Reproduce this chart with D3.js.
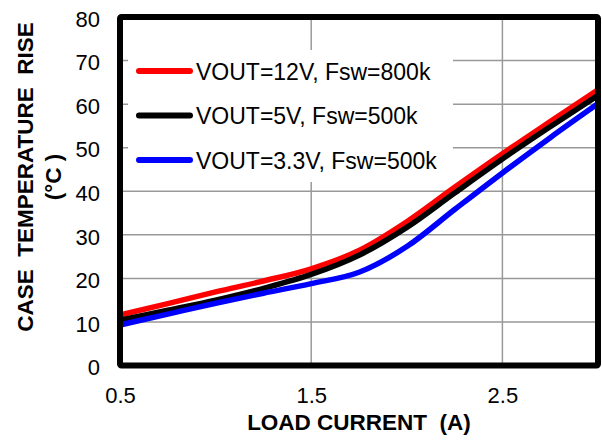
<!DOCTYPE html>
<html>
<head>
<meta charset="utf-8">
<script src="https://cdn.jsdelivr.net/npm/d3@7"></script>
<style>
  html, body { margin: 0; padding: 0; background: #fff; }
  svg { display: block; font-family: "Liberation Sans", Arial, sans-serif; }
</style>
</head>
<body>
<svg id="chart" width="602" height="444"></svg>
<script>
const loadCurrent = [0.5, 0.75, 1.0, 1.25, 1.5, 1.75, 2.0, 2.25, 2.5, 2.75, 3.0];
const rise12V  = [11.6, 14.2, 16.9, 19.4, 22.2, 26.4, 33.0, 40.9, 48.6, 56.0, 63.3];
const rise5V   = [10.4, 12.7, 15.0, 17.7, 20.9, 25.3, 31.7, 39.6, 47.4, 54.8, 62.0];
const rise3V3  = [9.3, 11.8, 14.3, 16.6, 18.8, 21.4, 27.3, 35.8, 44.2, 52.3, 60.1];
const seriesNames = ["VOUT=12V, Fsw=800k", "VOUT=5V, Fsw=500k", "VOUT=3.3V, Fsw=500k"];
const seriesColors = ["#ff0000", "#000000", "#0000ff"];
const xTicks = [0.5, 1.5, 2.5];
const yTicks = [0, 10, 20, 30, 40, 50, 60, 70, 80];
const xTitle = "LOAD CURRENT\u00a0\u00a0(A)";
const yTitle1 = "CASE\u00a0\u00a0TEMPERATURE\u00a0\u00a0RISE";
const yTitle2 = "(°C )";

const svg = d3.select("#chart");
const L = 120, R = 598, T = 17, B = 365.5;
const x = d3.scaleLinear().domain([0.5, 3.0]).range([L, R]);
const y = d3.scaleLinear().domain([0, 80]).range([B, T]);

// grid
const grid = svg.append("g");
grid.selectAll(".hg").data(yTicks.filter(d => d > 0 && d < 80)).enter().append("line")
  .attr("x1", L).attr("x2", R).attr("y1", d => y(d)).attr("y2", d => y(d))
  .attr("stroke", "#999").attr("stroke-width", 1.5);
grid.selectAll(".vg").data(xTicks.filter(d => d > 0.5)).enter().append("line")
  .attr("y1", T).attr("y2", B).attr("x1", d => x(d)).attr("x2", d => x(d))
  .attr("stroke", "#999").attr("stroke-width", 1.5);

// axes labels
const yAxis = d3.axisLeft(y).tickValues(yTicks).tickSize(0).tickPadding(20).tickFormat(d3.format("d"));
const gy = svg.append("g").attr("transform", `translate(${L},0)`).call(yAxis);
gy.select(".domain").remove();
gy.selectAll("text").attr("font-size", 22).attr("fill", "#000")
  .attr("font-family", "Liberation Sans, Arial, sans-serif").attr("dy", "0.42em");

const xAxis = d3.axisBottom(x).tickValues(xTicks).tickSize(0).tickPadding(22).tickFormat(d3.format(".1f"));
const gx = svg.append("g").attr("transform", `translate(0,${B})`).call(xAxis);
gx.select(".domain").remove();
gx.selectAll("text").attr("font-size", 22).attr("fill", "#000")
  .attr("font-family", "Liberation Sans, Arial, sans-serif");

// legend background
const legend = svg.append("g");
legend.append("rect").attr("x", 128).attr("y", 50).attr("width", 325).attr("height", 132).attr("fill", "#fff");

// lines
const allSeries = [rise12V, rise5V, rise3V3];
const line = d3.line().x((d, i) => x(loadCurrent[i])).y(d => y(d)).curve(d3.curveMonotoneX);
allSeries.forEach((s, i) => {
  svg.append("path").datum(s).attr("d", line).attr("fill", "none")
    .attr("stroke", seriesColors[i]).attr("stroke-width", 5.5)
    .attr("stroke-linejoin", "round").attr("stroke-linecap", "butt");
});

// border
svg.append("rect").attr("x", L).attr("y", T).attr("width", R - L).attr("height", B - T)
  .attr("fill", "none").attr("stroke", "#000").attr("stroke-width", 6).attr("rx", 1.5);

// legend items
seriesNames.forEach((name, i) => {
  const ly = 71 + i * 44.5;
  legend.append("line").attr("x1", 139).attr("x2", 190).attr("y1", ly).attr("y2", ly)
    .attr("stroke", seriesColors[i]).attr("stroke-width", 6).attr("stroke-linecap", "round");
  legend.append("text").attr("x", 196).attr("y", ly + 8.5).attr("font-size", 23)
    .attr("fill", "#000").text(name);
});

// titles
svg.append("text").attr("x", (L + R) / 2).attr("y", 430).attr("text-anchor", "middle")
  .attr("font-size", 22.5).attr("font-weight", "bold").text(xTitle);
svg.append("text").attr("transform", "translate(33,177) rotate(-90)").attr("text-anchor", "middle")
  .attr("font-size", 22.5).attr("font-weight", "bold").text(yTitle1);
svg.append("text").attr("transform", "translate(61,177) rotate(-90)").attr("text-anchor", "middle")
  .attr("font-size", 22.5).attr("font-weight", "bold").text(yTitle2);
</script>
</body>
</html>
